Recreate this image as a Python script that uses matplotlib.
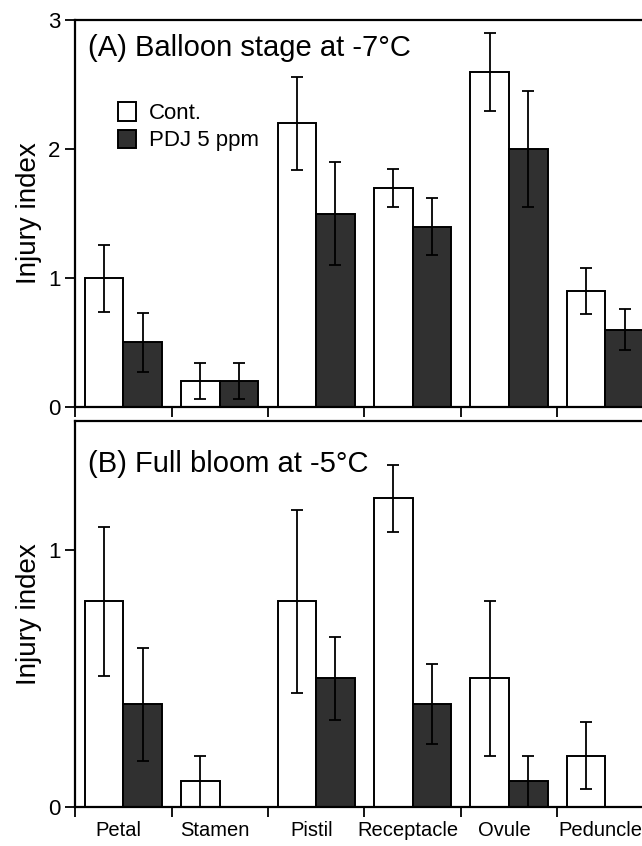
import numpy as np
import matplotlib.pyplot as plt

plt.rcParams['font.family'] = ['Liberation Sans', 'DejaVu Sans']

## DATA
organs = ["Petal", "Stamen", "Pistil", "Receptacle", "Ovule", "Peduncle"]

# (A) balloon stage at -7 C
cont_a = [1.0, 0.2, 2.2, 1.7, 2.6, 0.9]
cont_a_err = [0.26, 0.14, 0.36, 0.15, 0.30, 0.18]
pdj_a = [0.5, 0.2, 1.5, 1.4, 2.0, 0.6]
pdj_a_err = [0.23, 0.14, 0.40, 0.22, 0.45, 0.16]

# (B) full bloom at -5 C
cont_b = [0.8, 0.1, 0.8, 1.2, 0.5, 0.2]
cont_b_err = [0.29, 0.10, 0.355, 0.13, 0.30, 0.13]
pdj_b = [0.4, 0.0, 0.5, 0.4, 0.1, 0.0]
pdj_b_err = [0.22, 0.0, 0.16, 0.155, 0.10, 0.0]

x = np.arange(len(organs)) + 0.5
w = 0.4
dark = '#303030'

fig = plt.figure(figsize=(6.42, 8.46), dpi=100)
ax1 = fig.add_axes([0.117, 0.519, 0.901, 0.457])
ax2 = fig.add_axes([0.117, 0.046, 0.901, 0.456])


def draw(ax, cont, cerr, pdj, perr, ymax, yticks, title, ty):
    ax.bar(x - w / 2, cont, w, color='white', edgecolor='black', linewidth=1.4, label='Cont.')
    ax.bar(x + w / 2, pdj, w, color=dark, edgecolor='black', linewidth=1.4, label='PDJ 5 ppm')
    for xs, vals, errs in [(x - w / 2, cont, cerr), (x + w / 2, pdj, perr)]:
        m = np.array(errs) > 0
        ax.errorbar(xs[m], np.array(vals)[m], yerr=np.array(errs)[m], fmt='none',
                    ecolor='black', elinewidth=1.3, capsize=4, capthick=1.3)
    ax.set_xlim(0, 6)
    ax.set_ylim(0, ymax)
    ax.set_yticks(yticks)
    ax.set_xticks(np.arange(0, 7))
    ax.tick_params(axis='both', direction='out', length=7, width=1.3, labelsize=16)
    ax.set_ylabel('Injury index', fontsize=20, labelpad=4)
    ax.text(0.022, ty, title, transform=ax.transAxes, fontsize=21, va='top', ha='left')
    for s in ['left', 'top', 'bottom', 'right']:
        ax.spines[s].set_linewidth(1.6)


draw(ax1, cont_a, cont_a_err, pdj_a, pdj_a_err, 3, [0, 1, 2, 3],
     '(A) Balloon stage at -7°C', 0.965)
draw(ax2, cont_b, cont_b_err, pdj_b, pdj_b_err, 1.5, [0, 1],
     '(B) Full bloom at -5°C', 0.925)

ax1.set_xticklabels([])
ax2.set_xticklabels([])
for xi, name in zip(x, organs):
    ax2.text(xi - 0.05, -0.035, name, fontsize=14.5, ha='center', va='top',
             transform=ax2.get_xaxis_transform())

ax1.legend(loc='upper left', bbox_to_anchor=(0.04, 0.84), frameon=False, fontsize=16,
           handlelength=0.8, handleheight=0.9, handletextpad=0.6, labelspacing=0.25)

fig.savefig('out.png', dpi=100)
